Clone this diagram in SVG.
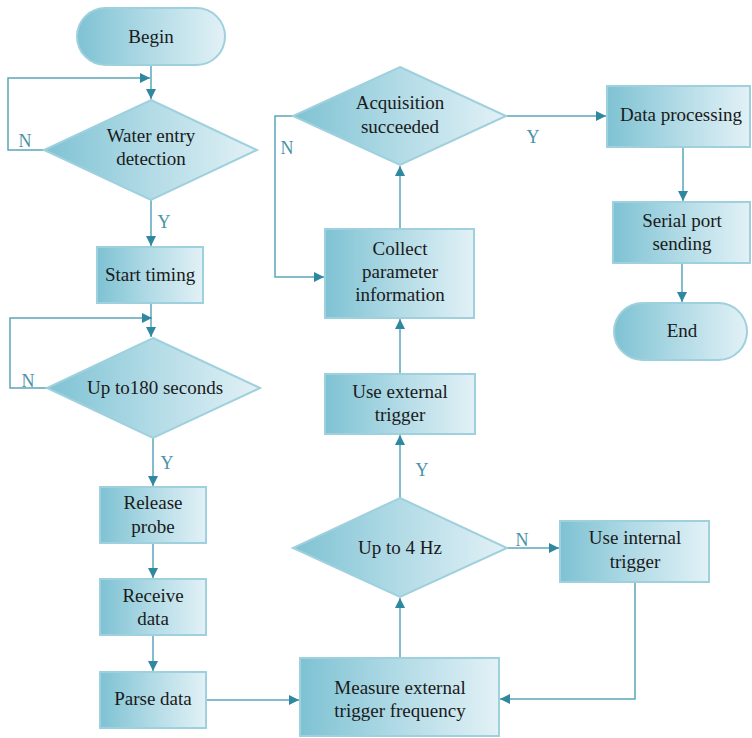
<svg xmlns="http://www.w3.org/2000/svg" width="752" height="738" viewBox="0 0 752 738">
<defs>
<linearGradient id="g" x1="0" y1="0" x2="1" y2="0">
<stop offset="0" stop-color="#7ec2d3"/>
<stop offset="0.5" stop-color="#b2dbe6"/>
<stop offset="1" stop-color="#e2f1f6"/>
</linearGradient>
<marker id="a" viewBox="0 0 10 10" refX="10" refY="5" markerWidth="10" markerHeight="10" markerUnits="userSpaceOnUse" orient="auto">
<path d="M0,0 L10,5 L0,10 Z" fill="#2f87a0"/>
</marker>
<style>
.s{fill:url(#g);stroke:#9fd0dd;stroke-width:2}
.lbl{font-size:19px;fill:#1a1a1a;text-anchor:middle}
.yn{font-size:18px;fill:#4a93a6;text-anchor:middle}
.c{fill:none;stroke:#5aa6bb;stroke-width:1.5}
</style>
</defs>
<g font-family="Liberation Serif, DejaVu Serif, serif">
<g id="connectors">
<path class="c" d="M151,65 V99" marker-end="url(#a)"/>
<path class="c" d="M44,150 H8 V78 H150" marker-end="url(#a)"/>
<path class="c" d="M151,200 V246" marker-end="url(#a)"/>
<path class="c" d="M151,303 V337" marker-end="url(#a)"/>
<path class="c" d="M47,388 H10 V318 H152" marker-end="url(#a)"/>
<path class="c" d="M153,438 V486" marker-end="url(#a)"/>
<path class="c" d="M153,543 V578" marker-end="url(#a)"/>
<path class="c" d="M153,635 V671" marker-end="url(#a)"/>
<path class="c" d="M206,700 H299" marker-end="url(#a)"/>
<path class="c" d="M400,658 V598" marker-end="url(#a)"/>
<path class="c" d="M507,548 H559" marker-end="url(#a)"/>
<path class="c" d="M635,582 V699 H500" marker-end="url(#a)"/>
<path class="c" d="M400,498 V435" marker-end="url(#a)"/>
<path class="c" d="M400,374 V319" marker-end="url(#a)"/>
<path class="c" d="M400,229 V166" marker-end="url(#a)"/>
<path class="c" d="M293,116 H275 V277 H324" marker-end="url(#a)"/>
<path class="c" d="M506,116 H606" marker-end="url(#a)"/>
<path class="c" d="M683,147 V201" marker-end="url(#a)"/>
<path class="c" d="M682,263 V302" marker-end="url(#a)"/>
<text class="yn" x="25" y="147">N</text>
<text class="yn" x="164" y="228">Y</text>
<text class="yn" x="28" y="387">N</text>
<text class="yn" x="167" y="469">Y</text>
<text class="yn" x="522" y="546">N</text>
<text class="yn" x="422" y="476">Y</text>
<text class="yn" x="287" y="154">N</text>
<text class="yn" x="533" y="143">Y</text>
</g>
<g id="begin"><rect class="s" x="77" y="8" width="148" height="57" rx="28.5"/><text class="lbl" x="151" y="43">Begin</text></g>
<g id="water"><path class="s" d="M151,100 L257,150 L151,200 L44,150 Z"/><text class="lbl" x="151" y="142">Water entry</text><text class="lbl" x="151" y="165">detection</text></g>
<g id="start"><rect class="s" x="97" y="247" width="106" height="56"/><text class="lbl" x="150" y="281">Start timing</text></g>
<g id="up180"><path class="s" d="M153,338 L260,388 L153,438 L47,388 Z"/><text class="lbl" x="155" y="394">Up to180 seconds</text></g>
<g id="release"><rect class="s" x="100" y="487" width="106" height="56"/><text class="lbl" x="153" y="509">Release</text><text class="lbl" x="153" y="533">probe</text></g>
<g id="receive"><rect class="s" x="100" y="579" width="106" height="56"/><text class="lbl" x="153" y="602">Receive</text><text class="lbl" x="153" y="625">data</text></g>
<g id="parse"><rect class="s" x="100" y="672" width="106" height="56"/><text class="lbl" x="153" y="705">Parse data</text></g>
<g id="measure"><rect class="s" x="300" y="658" width="199" height="78"/><text class="lbl" x="400" y="694">Measure external</text><text class="lbl" x="400" y="717">trigger frequency</text></g>
<g id="up4"><path class="s" d="M400,498 L507,548 L400,597 L293,548 Z"/><text class="lbl" x="400" y="554">Up to 4 Hz</text></g>
<g id="internal"><rect class="s" x="560" y="521" width="149" height="61"/><text class="lbl" x="635" y="544">Use internal</text><text class="lbl" x="635" y="568">trigger</text></g>
<g id="external"><rect class="s" x="325" y="374" width="150" height="60"/><text class="lbl" x="400" y="398">Use external</text><text class="lbl" x="400" y="421">trigger</text></g>
<g id="collect"><rect class="s" x="325" y="229" width="149" height="89"/><text class="lbl" x="400" y="255">Collect</text><text class="lbl" x="400" y="278">parameter</text><text class="lbl" x="400" y="301">information</text></g>
<g id="acq"><path class="s" d="M400,67 L506,116 L400,165 L293,116 Z"/><text class="lbl" x="400" y="109">Acquisition</text><text class="lbl" x="400" y="133">succeeded</text></g>
<g id="dataproc"><rect class="s" x="607" y="86" width="143" height="61"/><text class="lbl" x="681" y="121">Data processing</text></g>
<g id="serial"><rect class="s" x="613" y="202" width="137" height="61"/><text class="lbl" x="682" y="227">Serial port</text><text class="lbl" x="682" y="250">sending</text></g>
<g id="end"><rect class="s" x="614" y="303" width="133" height="57" rx="28.5"/><text class="lbl" x="682" y="337">End</text></g>
</g>
</svg>
